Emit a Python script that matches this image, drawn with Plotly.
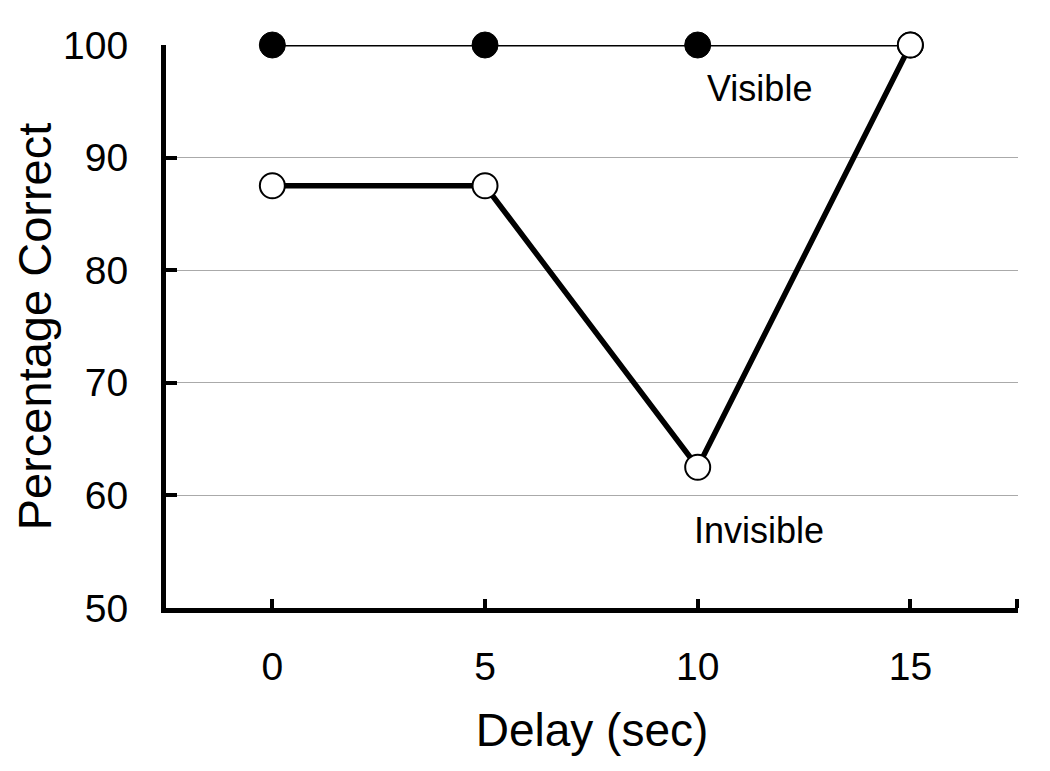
import plotly.graph_objects as go

delay = [0, 5, 10, 15]
visible = [100, 100, 100, 100]
invisible = [87.5, 87.5, 62.5, 100]

x_ticks = [0, 5, 10, 15, 17.5]
x_ticktext = ["0", "5", "10", "15", ""]
y_ticks = [50, 60, 70, 80, 90, 100]

FONT = "Liberation Sans, Arial, sans-serif"

fig = go.Figure()

# visible line (thin), filled markers
fig.add_trace(go.Scatter(
    x=delay, y=visible, mode="lines+markers",
    line=dict(color="black", width=3),
    marker=dict(size=26, color="black", line=dict(color="black", width=1)),
    cliponaxis=False, showlegend=False,
))
# invisible line (thick), open markers
fig.add_trace(go.Scatter(
    x=delay, y=invisible, mode="lines+markers",
    line=dict(color="black", width=5.5),
    marker=dict(size=25, color="white", line=dict(color="black", width=2)),
    cliponaxis=False, showlegend=False,
))

fig.add_annotation(x=11.45, y=96.1, text="Visible", showarrow=False,
                   font=dict(size=36, color="black", family=FONT))
fig.add_annotation(x=11.45, y=56.9, text="Invisible", showarrow=False,
                   font=dict(size=36, color="black", family=FONT))

# page body has an 8px default margin, so margins are shifted to compensate
fig.update_layout(
    width=1050, height=771,
    margin=dict(l=158, r=40, t=37, b=171),
    paper_bgcolor="white", plot_bgcolor="white",
    font=dict(family=FONT, color="black"),
    xaxis=dict(
        range=[-2.5, 17.53],
        tickvals=x_ticks, ticktext=x_ticktext,
        ticks="inside", ticklen=9, tickwidth=4, tickcolor="black",
        showline=True, linewidth=5, linecolor="black",
        showgrid=False, zeroline=False, automargin=False,
        tickfont=dict(size=39),
        ticklabelstandoff=20,
        title=dict(text="Delay (sec)", font=dict(size=46), standoff=29),
    ),
    yaxis=dict(
        range=[50, 100],
        tickvals=y_ticks,
        ticks="inside", ticklen=11, tickwidth=4, tickcolor="black",
        showline=True, linewidth=5, linecolor="black",
        showgrid=True, gridcolor="#aaaaaa", gridwidth=1,
        zeroline=False, automargin=False,
        tickfont=dict(size=39),
        ticklabelstandoff=25,
        title=dict(text="Percentage Correct", font=dict(size=47), standoff=23),
    ),
)

fig.write_html("out.html")
